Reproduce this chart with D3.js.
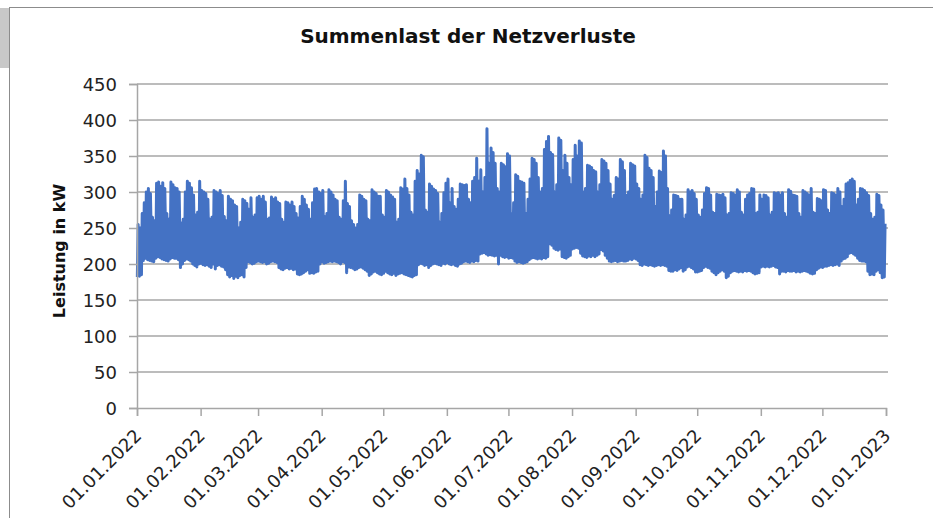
<!DOCTYPE html>
<html>
<head>
<meta charset="utf-8">
<script src="https://cdn.jsdelivr.net/npm/d3@7"></script>
<style>
	body { margin: 0; background: #fff; }
	svg { display: block; }
</style>
</head>
<body>
<svg id="chart" width="933" height="518"></svg>
<script>

// daily peak load in kW, one row per week (Sat, Sun, Mon ... Fri), starting Sat 01.01.2022
var dailyMax = [
	255, 250, 270, 285, 300, 305, 298,
	265, 260, 312, 314, 308, 313, 305,
	270, 262, 314, 310, 306, 305, 300,
	257, 262, 300, 315, 312, 306, 296,
	268, 272, 315, 302, 300, 298, 290,
	262, 265, 302, 300, 298, 302, 295,
	266, 260, 294, 290, 288, 282, 280,
	250, 258, 290, 288, 284, 276, 292,
	265, 268, 292, 294, 290, 294, 286,
	262, 264, 293, 290, 292, 286, 284,
	262, 258, 286, 285, 282, 286, 280,
	270, 264, 280, 294, 290, 282, 276,
	262, 285, 304, 305, 300, 298, 302,
	266, 270, 303, 300, 296, 290, 288,
	265, 262, 288, 315, 284, 280, 260,
	255, 250, 255, 296, 294, 290, 288,
	262, 260, 303, 300, 298, 294, 294,
	268, 265, 302, 300, 296, 293, 290,
	258, 262, 306, 304, 318, 305, 296,
	272, 268, 315, 330, 325, 351, 349,
	275, 272, 311, 308, 304, 302, 298,
	258, 270, 299, 312, 318, 285, 305,
	280, 276, 290, 311, 310, 309, 310,
	290, 285, 315, 320, 347, 315, 331,
	300, 320, 388, 340, 361, 355, 340,
	305, 300, 340, 338, 335, 353, 350,
	270, 285, 324, 322, 315, 314, 312,
	270, 290, 318, 347, 345, 340, 320,
	300, 305, 359, 370, 377, 355, 352,
	300, 310, 375, 372, 330, 351, 340,
	320, 310, 345, 365, 350, 371, 368,
	300, 305, 337, 336, 334, 330, 328,
	300, 310, 345, 343, 340, 330, 311,
	290, 295, 320, 318, 345, 342, 330,
	295, 300, 340, 338, 336, 311, 305,
	290, 296, 351, 348, 333, 330, 320,
	280, 300, 329, 327, 357, 350, 305,
	267, 275, 296, 295, 294, 290, 290,
	262, 268, 303, 300, 302, 298, 290,
	268, 265, 275, 298, 306, 305, 296,
	272, 270, 297, 296, 295, 297, 292,
	268, 270, 299, 298, 296, 303, 300,
	272, 268, 290, 296, 298, 305, 304,
	270, 272, 296, 290, 296, 295, 292,
	268, 272, 299, 298, 299, 296, 299,
	270, 265, 303, 301, 296, 295, 294,
	270, 265, 302, 300, 298, 296, 305,
	272, 270, 291, 290, 288, 303, 302,
	275, 270, 299, 298, 296, 305, 300,
	280, 290, 311, 313, 316, 318, 315,
	282, 290, 305, 304, 302, 299, 295,
	270, 262, 265, 297, 295, 282, 275,
	256
];

// daily night minimum in kW, same layout
var dailyMin = [
	182, 183, 185, 205, 208, 206, 205,
	204, 203, 208, 210, 209, 207, 206,
	205, 204, 207, 209, 208, 208, 206,
	195, 200, 205, 207, 206, 204, 200,
	198, 196, 200, 201, 199, 198, 199,
	197, 195, 200, 193, 198, 199, 197,
	196, 192, 185, 182, 184, 180, 183,
	181, 184, 185, 182, 195, 203, 202,
	200, 201, 203, 204, 203, 202, 203,
	200, 201, 203, 204, 203, 202, 195,
	193, 192, 194, 195, 193, 194, 192,
	193, 186, 185, 186, 188, 190, 192,
	187, 188, 187, 189, 190, 200, 203,
	201, 202, 203, 204, 203, 204, 203,
	202, 200, 203, 202, 188, 196, 195,
	194, 192, 193, 195, 196, 194, 192,
	190, 184, 186, 189, 190, 188, 186,
	185, 187, 190, 188, 186, 185, 187,
	184, 186, 187, 188, 186, 185, 184,
	183, 182, 184, 185, 199, 201, 200,
	198, 199, 195, 198, 200, 201, 200,
	199, 198, 201, 200, 202, 200, 199,
	200, 198, 197, 200, 201, 203, 204,
	203, 202, 204, 203, 205, 204, 214,
	215, 216, 214, 212, 213, 212, 211,
	212, 200, 212, 210, 209, 210, 208,
	209, 208, 204, 202, 203, 202, 201,
	202, 203, 206, 208, 209, 208, 207,
	208, 207, 209, 208, 210, 228, 226,
	222, 220, 219, 221, 210, 209, 208,
	210, 212, 221, 222, 223, 222, 215,
	211, 210, 209, 211, 210, 212, 210,
	212, 214, 220, 218, 212, 208, 204,
	203, 204, 205, 203, 204, 205, 204,
	204, 205, 207, 206, 208, 207, 205,
	199, 198, 200, 199, 198, 199, 198,
	197, 198, 199, 198, 199, 198, 197,
	191, 190, 190, 192, 191, 193, 195,
	190, 192, 196, 197, 195, 193, 189,
	189, 190, 191, 195, 197, 195, 194,
	190, 188, 185, 188, 190, 192, 190,
	181, 183, 188, 190, 191, 190, 189,
	190, 189, 191, 190, 191, 190, 188,
	186, 187, 188, 196, 197, 196, 197,
	196, 197, 198, 196, 195, 186, 190,
	190, 189, 191, 190, 190, 191, 189,
	190, 189, 190, 191, 190, 189, 187,
	186, 187, 192, 194, 196, 195, 197,
	197, 198, 199, 198, 199, 200, 198,
	204, 207, 208, 210, 215, 216, 214,
	212, 208, 205, 204, 204, 203, 190,
	185, 186, 185, 190, 192, 188, 181,
	182
];

var yTicks = [0, 50, 100, 150, 200, 250, 300, 350, 400, 450];
var monthTicks = [
	"2022-01-01", "2022-02-01", "2022-03-01", "2022-04-01", "2022-05-01", "2022-06-01", "2022-07-01",
	"2022-08-01", "2022-09-01", "2022-10-01", "2022-11-01", "2022-12-01", "2023-01-01"
];

var chartTitle = "Summenlast der Netzverluste";
var yTitle = "Leistung in kW";

var svg = d3.select("#chart");
var parse = d3.timeParse("%Y-%m-%d");
var fmt = d3.timeFormat("%d.%m.%Y");

// plot area
var plotLeft = 137, plotRight = 886, plotTop = 84, plotBottom = 408;

var x = d3.scaleTime()
	.domain([parse(monthTicks[0]), parse(monthTicks[monthTicks.length - 1])])
	.range([plotLeft, plotRight]);
var y = d3.scaleLinear()
	.domain([0, 450])
	.range([plotBottom, plotTop]);

// frame of the chart object
svg.append("rect").attr("x", 0).attr("y", 8).attr("width", 9).attr("height", 60).attr("fill", "#c8c8c8");
svg.append("line").attr("x1", 9.5).attr("x2", 9.5).attr("y1", 7).attr("y2", 518).attr("stroke", "#8c8c8c");
svg.append("line").attr("x1", 9).attr("x2", 933).attr("y1", 7.5).attr("y2", 7.5).attr("stroke", "#8c8c8c");

// gridlines
svg.append("g").selectAll("line").data(yTicks.slice(1)).enter()
	.append("line")
	.attr("x1", plotLeft).attr("x2", plotRight + 2)
	.attr("y1", function(d){ return y(d); })
	.attr("y2", function(d){ return y(d); })
	.attr("stroke", "#a6a6a6")
	.attr("stroke-width", 1.5);

// build zigzag: night minimum then daytime peak for each day
var points = [];
for (var i = 0; i < dailyMax.length; i++){
	points.push([new Date(2022, 0, 1 + i, 4), dailyMin[i]]);
	points.push([new Date(2022, 0, 1 + i, 13), dailyMax[i]]);
}
var line = d3.line()
	.x(function(d){ return x(d[0]); })
	.y(function(d){ return y(d[1]); });

svg.append("path")
	.datum(points)
	.attr("d", line)
	.attr("fill", "none")
	.attr("stroke", "#4472c4")
	.attr("stroke-width", 3)
	.attr("stroke-linejoin", "round");

// y axis
var yAxis = svg.append("g")
	.attr("transform", "translate(" + plotLeft + ",0)")
	.call(d3.axisLeft(y).tickValues(yTicks).tickSize(8).tickPadding(12));
yAxis.select(".domain").attr("stroke", "#a6a6a6").attr("stroke-width", 1.5);
yAxis.selectAll(".tick line").attr("stroke", "#a6a6a6").attr("stroke-width", 1.5);
yAxis.selectAll(".tick text")
	.attr("font-family", "DejaVu Sans")
	.attr("font-size", 18)
	.attr("fill", "#222")
	.attr("dy", "0.38em");

// x axis
var xAxis = svg.append("g")
	.attr("transform", "translate(0," + plotBottom + ")")
	.call(d3.axisBottom(x).tickValues(monthTicks.map(parse)).tickSize(8).tickFormat(fmt));
xAxis.select(".domain").attr("stroke", "#a6a6a6").attr("stroke-width", 1.5);
xAxis.selectAll(".tick line").attr("stroke", "#a6a6a6").attr("stroke-width", 1.5);
xAxis.selectAll(".tick text")
	.attr("font-family", "DejaVu Sans")
	.attr("font-size", 18)
	.attr("fill", "#222")
	.attr("text-anchor", "end")
	.attr("y", 0).attr("dy", 0)
	.attr("transform", "translate(5,29) rotate(-45)");

// titles
svg.append("text")
	.attr("x", 468).attr("y", 43)
	.attr("text-anchor", "middle")
	.attr("font-family", "DejaVu Sans")
	.attr("font-weight", "bold")
	.attr("font-size", 20)
	.attr("fill", "#111")
	.text(chartTitle);

svg.append("text")
	.attr("transform", "translate(65,251) rotate(-90)")
	.attr("text-anchor", "middle")
	.attr("font-family", "DejaVu Sans")
	.attr("font-weight", "bold")
	.attr("font-size", 16)
	.attr("fill", "#111")
	.text(yTitle);

</script>
</body>
</html>
